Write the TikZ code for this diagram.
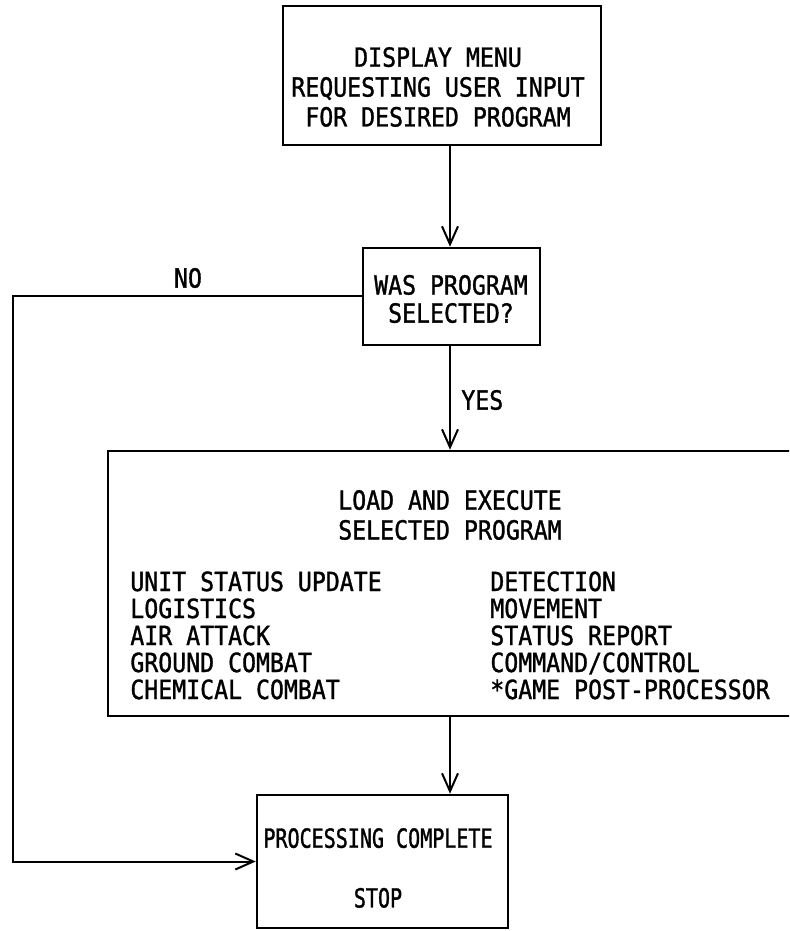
\documentclass[tikz,border=0pt]{standalone}
\usepackage{fontspec}
\newfontfamily\plotfont[FakeStretch=0.88, FakeBold=1.2]{DejaVu Sans Mono}
\newfontfamily\plotfontnarrow[FakeStretch=0.76, FakeBold=1.2]{DejaVu Sans Mono}
\usetikzlibrary{arrows.meta}
\tikzset{
	box/.style={draw, line width=0.5mm, inner sep=0pt},
	flow/.style={line width=0.4mm, -{Straight Barb[length=3.6mm, width=3.2mm, line width=0.4mm]}},
	lbl/.style={font=\plotfont\fontsize{15}{17}\selectfont, inner sep=0pt},
}

\begin{document}
\begin{tikzpicture}[x=0.2mm, y=-0.2mm]
		\clip (0,0) rectangle (789,931);
		\coordinate (spine) at (450,0);
		\coordinate (back) at (13,296.5);

		\node[box, minimum width=63.6mm, minimum height=27.8mm] (menu) at (442,75.5) {};
		\node[box, minimum width=35.4mm, minimum height=19.4mm] (query) at (451.5,296.5) {};
		\node[box, minimum width=140.4mm, minimum height=53mm] (run) at (459,583.5) {};
		\node[box, minimum width=50.2mm, minimum height=26.6mm] (done) at (382.5,861.5) {};

		\node[lbl, align=center] (menutext) at (438,87) {DISPLAY MENU\\REQUESTING USER INPUT\\FOR DESIRED PROGRAM};
		\node[lbl, align=center, font=\plotfont\fontsize{15}{16}\selectfont] (querytext) at (451,299) {WAS PROGRAM\\SELECTED?};
		\node[lbl, align=center] (runtext) at (450,515) {LOAD AND EXECUTE\\SELECTED PROGRAM};
		\node[lbl, align=center, font=\plotfontnarrow\fontsize{15}{17}\selectfont] (donetext) at (378,868) {PROCESSING COMPLETE\\[17pt]STOP};

		\foreach \t [count=\i] in {UNIT STATUS UPDATE, LOGISTICS, AIR ATTACK, GROUND COMBAT, CHEMICAL COMBAT}
			\node[lbl, anchor=base west] (prog\i) at (130, 564+27*\i) {\t};
		\foreach \t [count=\i] in {DETECTION, MOVEMENT, STATUS REPORT, COMMAND/CONTROL, *GAME POST-PROCESSOR}
			\node[lbl, anchor=base west] (util\i) at (490, 564+27*\i) {\t};

		\draw[flow] (menu.south -| spine) -- (query.north -| spine);
		\draw[flow] (query.south -| spine) -- (run.north -| spine);
		\draw[flow] (run.south -| spine) -- (done.north -| spine);
		\draw[flow] (query.west) -- (back) |- (done.west);

		\node[lbl, anchor=west] (yes) at (461,400) {YES};
		\node[lbl] (no) at (188,278) {NO};
	\end{tikzpicture}
\end{document}
